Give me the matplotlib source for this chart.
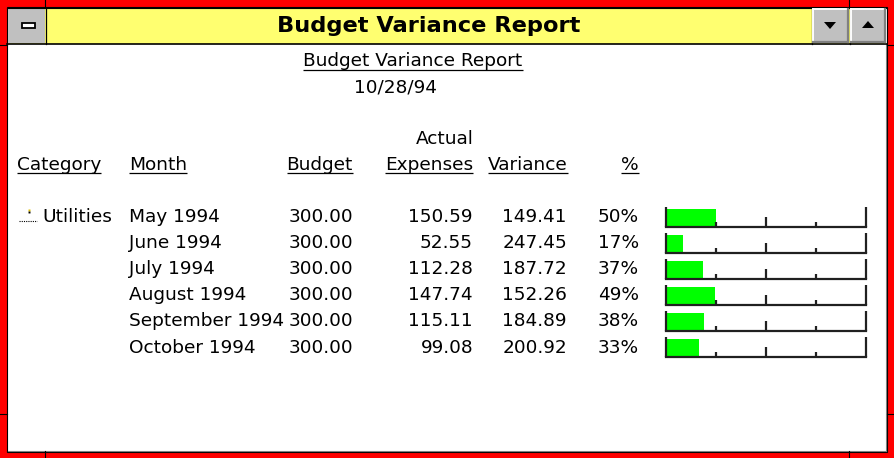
import matplotlib
matplotlib.use('Agg')
import matplotlib.pyplot as plt
from matplotlib.patches import Rectangle, Polygon

# report data
window_title = 'Budget Variance Report'
report_title = 'Budget Variance Report'
report_date = '10/28/94'
category = 'Utilities'
months = ['May 1994', 'June 1994', 'July 1994', 'August 1994',
          'September 1994', 'October 1994']
budget = [300.00, 300.00, 300.00, 300.00, 300.00, 300.00]
actual = [150.59, 52.55, 112.28, 147.74, 115.11, 99.08]
variance = [149.41, 247.45, 187.72, 152.26, 184.89, 200.92]
pct = [50, 17, 37, 49, 38, 33]
bar_ticks = [0, 50, 100, 150, 200]

W, H = 894, 458
FS = 13.3        # body text (pt)
ROW0 = 221.7     # baseline of first row (px)
STEP = 26.2


def underline(ax, t, y):
    r = ax.figure.canvas.get_renderer()
    bb = t.get_window_extent(r)
    inv = ax.transData.inverted()
    x0 = inv.transform((bb.x0, bb.y0))[0]
    x1 = inv.transform((bb.x1, bb.y0))[0]
    ax.plot([x0, x1], [y, y], color='black', lw=0.9, solid_capstyle='butt')


def button(ax, x0, x1, y0, y1):
    ax.add_patch(Rectangle((x0, y0), x1 - x0, y1 - y0, fc='#c0c0c0', ec='none'))
    ax.plot([x0 + 1, x1 - 1], [y0 + 1, y0 + 1], color='white', lw=1.4)
    ax.plot([x0 + 1, x0 + 1], [y0 + 1, y1 - 1], color='white', lw=1.4)
    ax.plot([x0 + 1, x1 - 1], [y1 - 1, y1 - 1], color='#808080', lw=1.6)
    ax.plot([x1 - 1, x1 - 1], [y0 + 1, y1 - 1], color='#808080', lw=1.6)


def run():
    fig = plt.figure(figsize=(W / 100, H / 100), dpi=100)
    ax = fig.add_axes([0, 0, 1, 1])
    ax.set_xlim(0, W)
    ax.set_ylim(H, 0)
    ax.axis('off')
    fig.canvas.draw()

    # window frame
    ax.add_patch(Rectangle((0, 0), W, H, fc='#ff0000', ec='none'))
    ax.add_patch(Rectangle((7, 7), 880, 445, fc='white', ec='black', lw=0.8))
    ax.plot([886, 886], [44, 451], color='#808080', lw=0.8)
    ax.plot([8, 886], [451, 451], color='#808080', lw=0.8)
    for x in (45, 849):
        ax.plot([x, x], [0, 7], color='black', lw=0.8)
        ax.plot([x, x], [451, H], color='black', lw=0.8)
    for y in (45, 414):
        ax.plot([0, 7], [y, y], color='black', lw=0.8)
        ax.plot([887, W], [y, y], color='black', lw=0.8)

    # title bar
    ax.add_patch(Rectangle((8, 7.5), 878, 36, fc='#ffff70', ec='none'))
    ax.plot([7, 887], [43.5, 43.5], color='black', lw=1.2)
    ax.plot([7, 887], [7.5, 7.5], color='black', lw=0.8)
    ax.add_patch(Rectangle((8, 8), 37, 35, fc='#c0c0c0', ec='none'))
    ax.plot([45.5, 45.5], [7.5, 43.5], color='black', lw=0.9)
    ax.add_patch(Rectangle((22, 22.5), 13, 5, fc='white', ec='black', lw=1.3))
    ax.plot([811.5, 811.5], [7.5, 43.5], color='black', lw=0.9)
    ax.plot([849.5, 849.5], [7.5, 43.5], color='black', lw=0.9)
    button(ax, 812, 849, 8, 43)
    button(ax, 850, 886, 8, 43)
    ax.add_patch(Polygon([[824, 22], [836, 22], [830, 29]], closed=True, fc='black', ec='none'))
    ax.add_patch(Polygon([[862, 28], [874, 28], [868, 21]], closed=True, fc='black', ec='none'))
    ax.text(429, 25.5, window_title, ha='center', va='center', fontsize=16.2,
            fontweight='bold', color='black')

    # report header
    t = ax.text(413, 66.5, report_title, ha='center', va='baseline', fontsize=FS)
    underline(ax, t, 69.5)
    ax.text(396, 92.5, report_date, ha='center', va='baseline', fontsize=FS)
    ax.text(474, 143.5, 'Actual', ha='right', va='baseline', fontsize=FS)
    heads = [('Category', 17, 'left'), ('Month', 129, 'left'), ('Budget', 353, 'right'),
             ('Expenses', 473, 'right'), ('Variance', 568, 'right'), ('%', 639, 'right')]
    for txt, x, ha in heads:
        t = ax.text(x, 170, txt, ha=ha, va='baseline', fontsize=FS)
        underline(ax, t, 173)

    # category marker
    ax.plot([19, 37], [220.5, 220.5], color='black', lw=0.8, ls=(0, (1, 1)))
    ax.plot([29], [209.5], marker='s', ms=1.6, color='#e0c000', mec='none')
    ax.plot([29], [211.5], marker='s', ms=1.4, color='black', mec='none')
    ax.text(42, ROW0, category, ha='left', va='baseline', fontsize=FS)

    for i in range(len(months)):
        y = ROW0 + i * STEP
        ax.text(129, y, months[i], ha='left', va='baseline', fontsize=FS)
        ax.text(353, y, '%.2f' % budget[i], ha='right', va='baseline', fontsize=FS)
        ax.text(473, y, '%.2f' % actual[i], ha='right', va='baseline', fontsize=FS)
        ax.text(567, y, '%.2f' % variance[i], ha='right', va='baseline', fontsize=FS)
        ax.text(639, y, '%d%%' % pct[i], ha='right', va='baseline', fontsize=FS)

    # bars, one track per row; scale 0..200 %
    n = len(months)
    bx = fig.add_axes([666 / W, 1 - 357.3 / H, 200 / W, n * 26 / H])
    bx.set_xlim(0, 200)
    bx.set_ylim(n, 0)
    bx.axis('off')
    h = 18.5 / 26
    bx.barh([i + 1 - h / 2 for i in range(n)], pct, height=h, left=0,
            color='#00ff00', edgecolor='none')
    tick_h = {0: 20, 50: 5, 100: 10, 150: 5, 200: 20}
    for i in range(n):
        base = i + 1
        bx.plot([0, 200], [base, base], color='#202020', lw=1.6, clip_on=False,
                solid_capstyle='projecting')
        for tk in bar_ticks:
            bx.plot([tk, tk], [base, base - tick_h[tk] / 26], color='#202020',
                    lw=1.6, clip_on=False, solid_capstyle='butt')

    fig.savefig('out.png', dpi=100)


if __name__ == "__main__":
    run()
